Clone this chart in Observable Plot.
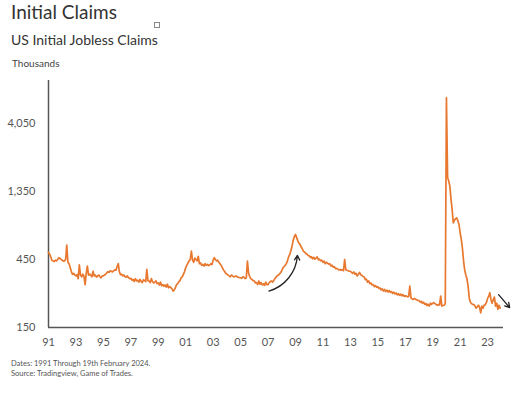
<!DOCTYPE html>
<html>
<head>
<meta charset="utf-8">
<script src="https://cdn.jsdelivr.net/npm/d3@7"></script>
<script src="https://cdn.jsdelivr.net/npm/@observablehq/plot@0.6"></script>
<style>
  body { margin:0; background:#fff; width:520px; height:394px; position:relative; overflow:hidden; font-family: Lato, "Open Sans", sans-serif; }
  .t { position:absolute; white-space:nowrap; line-height:1; }
  #chart { position:absolute; left:0; top:70px; }
</style>
</head>
<body>
<div class="t" style="left:11px;top:1.5px;font-size:19px;color:#333;">Initial Claims</div>
<div style="position:absolute;left:154px;top:22px;width:4px;height:4px;border:1px solid #888;"></div>
<div class="t" style="left:11px;top:32.5px;font-size:14px;color:#333;">US Initial Jobless Claims</div>
<div class="t" style="left:12px;top:58px;font-size:10px;color:#444;">Thousands</div>
<div id="chart"></div>
<div class="t" style="left:11px;top:360px;font-size:7.5px;color:#555;">Dates: 1991 Through 19th February 2024.</div>
<div class="t" style="left:11px;top:369.5px;font-size:7.5px;color:#555;">Source: Tradingview, Game of Trades.</div>
<script>
// Monthly claims (thousands), starting January 1991
const startMonth = "1991-01-01";
const claims = [
  505, 490, 470, 445, 440, 435, 445, 440, 450, 462, 458, 450, // 1991
  445, 438, 440, 450, 567, 430, 420, 395, 370, 354, 360, 350, // 1992
  345, 352, 330, 412, 350, 340, 355, 345, 300, 360, 405, 350, // 1993
  355, 348, 340, 372, 345, 350, 338, 345, 350, 340, 335, 345, // 1994
  345, 350, 355, 362, 370, 365, 375, 372, 368, 375, 380, 378, // 1995
  400, 421, 370, 352, 355, 345, 350, 340, 338, 345, 335, 330, // 1996
  332, 322, 326, 315, 330, 318, 322, 312, 326, 316, 310, 324, // 1997
  320, 315, 383, 320, 318, 310, 330, 315, 308, 312, 318, 305, // 1998
  308, 298, 312, 295, 300, 292, 298, 288, 302, 285, 290, 286, // 1999
  280, 270, 275, 285, 300, 305, 315, 320, 335, 340, 355, 370, // 2000
  395, 410, 425, 440, 450, 515, 445, 430, 460, 450, 440, 474, // 2001
  420, 425, 410, 415, 405, 420, 410, 415, 408, 412, 420, 415, // 2002
  445, 463, 450, 440, 445, 430, 420, 410, 395, 380, 372, 360, // 2003
  355, 350, 345, 340, 350, 345, 340, 342, 345, 340, 338, 335, // 2004
  335, 332, 340, 338, 330, 335, 438, 360, 340, 330, 325, 320, // 2005
  318, 308, 310, 300, 318, 302, 310, 298, 304, 296, 312, 300, // 2006
  300, 310, 315, 318, 312, 320, 330, 338, 345, 350, 355, 365, // 2007
  375, 393, 400, 410, 420, 440, 470, 488, 520, 560, 615, 650, // 2008
  674, 640, 610, 585, 575, 550, 535, 512, 508, 495, 492, 480, // 2009
  478, 465, 470, 455, 466, 452, 460, 470, 448, 452, 440, 445, // 2010
  430, 438, 420, 430, 425, 418, 420, 405, 410, 398, 400, 388, // 2011
  390, 385, 380, 383, 378, 382, 375, 450, 380, 378, 375, 372, // 2012
  372, 365, 360, 368, 355, 360, 345, 355, 365, 352, 348, 342, // 2013
  340, 325, 328, 312, 318, 305, 308, 298, 300, 290, 295, 287, // 2014
  290, 282, 284, 275, 280, 270, 277, 268, 274, 266, 272, 265, // 2015
  268, 260, 265, 258, 262, 254, 259, 252, 257, 250, 255, 248, // 2016
  250, 249, 246, 248, 293, 242, 238, 236, 240, 236, 235, 232, // 2017
  232, 226, 229, 222, 226, 218, 221, 214, 219, 212, 222, 218, // 2018
  222, 224, 220, 218, 215, 217, 216, 249, 212, 214, 215, 220, // 2019
  6137, 1700, 1600, 1470, 1200, 1008, 813, 850, 870, 882, 840, 790, // 2020
  690, 620, 540, 440, 380, 350, 330, 290, 240, 225, 220, 218, // 2021
  217, 212, 205, 210, 215, 208, 190, 212, 205, 215, 217, 225, // 2022
  240, 249, 263, 235, 222, 236, 245, 212, 222, 201, 215, 205  // 2023
];
const yTicks = [150, 450, 1350, 4050];
const xTickYears = ["1991","1993","1995","1997","1999","2001","2003","2005","2007","2009","2011","2013","2015","2017","2019","2021","2023"];
const xDomain = ["1991-01-01", "2024-02-28"];
const yDomain = [150, 8100];
// annotation arrows (data units)
const arrowStart = ["2007-01-25", "2023-10-20"];
const arrowStartValue = [270, 255];
const arrowEnd = ["2009-02-20", "2024-08-10"];
const arrowEndValue = [480, 207];
const arrowBend = [-35, 0];

const start = new Date(startMonth);
const data = claims.map((v, i) => ({date: d3.utcMonth.offset(start, i), value: v}));
const arrows = arrowStart.map((d, i) => ({
  x1: new Date(d), y1: arrowStartValue[i], x2: new Date(arrowEnd[i]), y2: arrowEndValue[i], bend: arrowBend[i]
}));

const chart = Plot.plot({
  width: 520,
  height: 287,
  marginLeft: 48,
  marginRight: 17,
  marginTop: 10,
  marginBottom: 30,
  style: {fontFamily: "Lato, sans-serif", fontSize: "11px", color: "#555", background: "transparent"},
  x: {type: "utc", domain: xDomain.map(d => new Date(d))},
  y: {type: "log", domain: yDomain},
  marks: [
    Plot.ruleY([yDomain[0]], {stroke: "#555", strokeWidth: 1.5}),
    Plot.ruleX([new Date(xDomain[0])], {stroke: "#555", strokeWidth: 1.5}),
    Plot.line(data, {x: "date", y: "value", stroke: "#e8782f", strokeWidth: 1.7}),
    Plot.arrow(arrows.filter(a => a.bend !== 0), {x1: "x1", y1: "y1", x2: "x2", y2: "y2", bend: -35, stroke: "#222", strokeWidth: 1.3, headLength: 6}),
    Plot.arrow(arrows.filter(a => a.bend === 0), {x1: "x1", y1: "y1", x2: "x2", y2: "y2", stroke: "#222", strokeWidth: 1.3, headLength: 6}),
    Plot.axisY({ticks: yTicks, tickSize: 0, tickPadding: 13, tickFormat: d3.format(","), label: null, fontSize: 11}),
    Plot.axisX({ticks: xTickYears.map(y => new Date(y + "-01-01")), tickSize: 0, tickPadding: 11, tickFormat: d3.utcFormat("%y"), label: null, fontSize: 11})
  ]
});
document.getElementById("chart").appendChild(chart);
</script>
</body>
</html>
